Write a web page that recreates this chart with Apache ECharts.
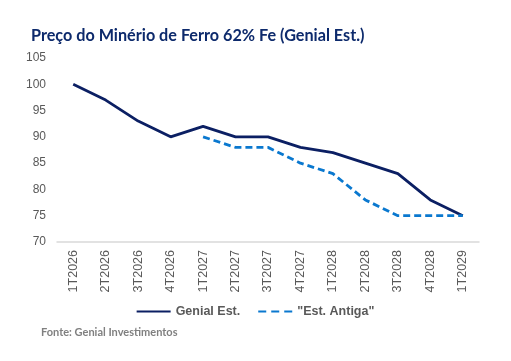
<!DOCTYPE html>
<html><head><meta charset="utf-8">
<script src="https://cdn.jsdelivr.net/npm/echarts@6/dist/echarts.min.js"></script>
<style>html,body{margin:0;padding:0;background:#fff}#c{width:511px;height:361px}</style>
</head><body><div id="c"></div>
<script>
const categories = ['1T2026','2T2026','3T2026','4T2026','1T2027','2T2027','3T2027','4T2027','1T2028','2T2028','3T2028','4T2028','1T2029'];
const genialEst = [100, 97, 93, 90, 92, 90, 90, 88, 87, 85, 83, 78, 75];
const estAntiga = [null, null, null, null, 90, 88, 88, 85, 83, 78, 75, 75, 75];
const yTicks = [70, 75, 80, 85, 90, 95, 100, 105];

const chart = echarts.init(document.getElementById('c'), null, {renderer: 'canvas'});
chart.setOption({
  animation: false,
  title: [{
    text: 'Preço do Minério de Ferro 62% Fe (Genial Est.)',
    left: 26, top: 23,
    textStyle: {fontFamily: 'Lato', fontWeight: 'bold', fontSize: 16.2, color: '#0d2a6c'}
  }, {
    text: 'Fonte: Genial Investimentos',
    left: 36, top: 322,
    textStyle: {fontFamily: 'Lato', fontWeight: 'bold', fontSize: 11, color: '#808080'}
  }],
  grid: {left: 57, right: 32, top: 58, bottom: 119},
  legend: {
    top: 300, left: 'center',
    itemWidth: 34, itemHeight: 10, itemGap: 18,
    textStyle: {fontFamily: 'Liberation Sans', fontSize: 12.5, color: '#595959', fontWeight: 'bold'},
    data: [
      {name: 'Genial Est.', icon: 'path://M0,4L34,4L34,6.2L0,6.2Z'},
      {name: '"Est. Antiga"', icon: 'path://M0,4L8,4L8,6.2L0,6.2Z M13,4L21,4L21,6.2L13,6.2Z M26,4L34,4L34,6.2L26,6.2Z'}
    ]
  },
  xAxis: {
    type: 'category', data: categories, boundaryGap: true,
    axisLine: {show: true, lineStyle: {color: '#d9d9d9', width: 1.5}},
    axisTick: {show: false},
    axisLabel: {rotate: 90, interval: 0, margin: 8, fontFamily: 'Liberation Sans', fontSize: 12.5, color: '#595959'}
  },
  yAxis: {
    type: 'value', min: 70, max: 105, interval: 5,
    axisLine: {show: false}, axisTick: {show: false},
    splitLine: {show: false},
    axisLabel: {margin: 11, fontFamily: 'Liberation Sans', fontSize: 12, color: '#595959'}
  },
  series: [{
    name: 'Genial Est.', type: 'line', data: genialEst,
    symbol: 'none', lineStyle: {color: '#0b1f63', width: 2.8}, itemStyle: {color: '#0b1f63'}
  }, {
    name: '"Est. Antiga"', type: 'line', data: estAntiga,
    symbol: 'none', lineStyle: {color: '#0a78cf', width: 2.8, type: [7, 4]}, itemStyle: {color: '#0a78cf'}
  }]
});
</script></body></html>
